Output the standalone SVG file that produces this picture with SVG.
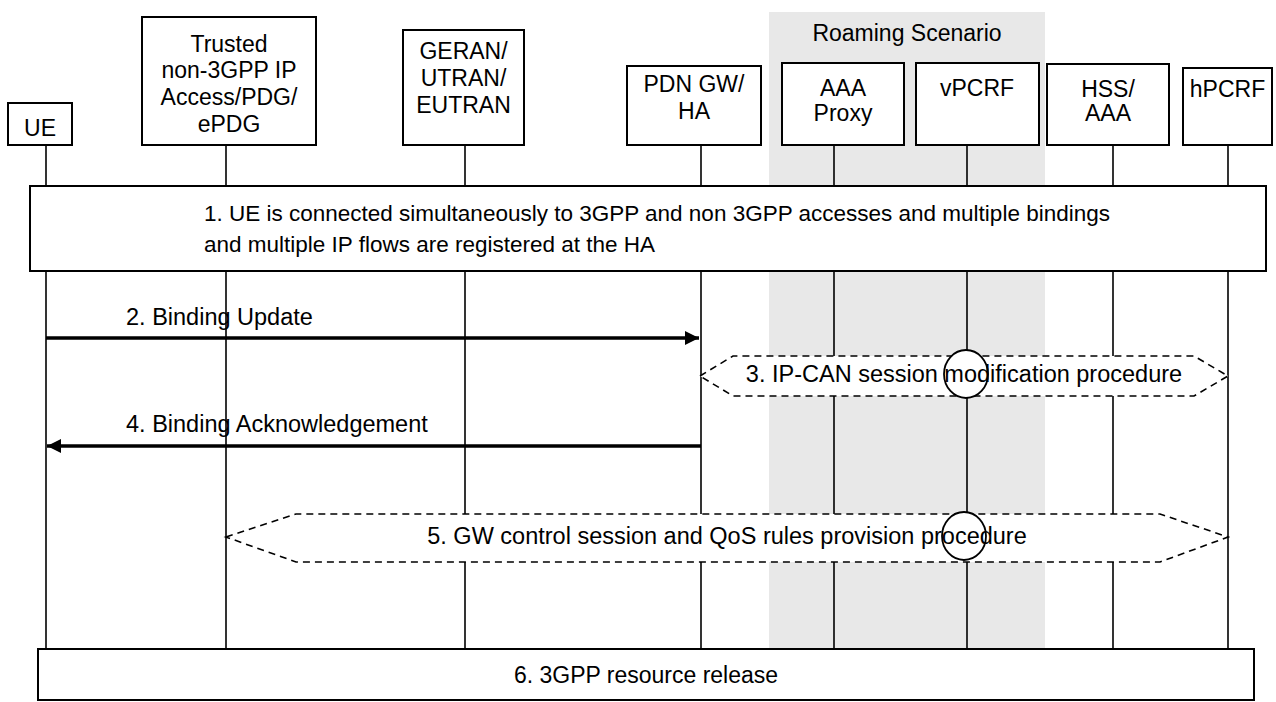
<svg xmlns="http://www.w3.org/2000/svg" width="1276" height="702" viewBox="0 0 1276 702">
<style>
text{font-family:"Liberation Sans",Arial,sans-serif;font-size:23px;fill:#000}
.m{font-size:23.5px}
.s1{font-size:22.5px}
.box{fill:#fff;stroke:#000;stroke-width:2}
.life{stroke:#000;stroke-width:1.6;fill:none}
.msg{stroke:#000;stroke-width:3.5;fill:none}
.proc{fill:#fff;stroke:#000;stroke-width:1.6;stroke-dasharray:7,5}
.ring{fill:#fff;stroke:#000;stroke-width:1.8}
.c{text-anchor:middle}
</style>
<defs>
<marker id="ah" viewBox="0 0 10 10" refX="10" refY="5" markerWidth="4.4" markerHeight="4" markerUnits="strokeWidth" orient="auto">
<path d="M0,0 L10,5 L0,10 z" fill="#000"/>
</marker>
</defs>
<rect id="roaming-area" x="769" y="12" width="276" height="636" fill="#e8e8e8"/>
<text class="c" x="907" y="41">Roaming Scenario</text>
<g id="lifelines">
<line class="life" x1="46" y1="145" x2="46" y2="649"/>
<line class="life" x1="226" y1="145" x2="226" y2="649"/>
<line class="life" x1="465" y1="145" x2="465" y2="649"/>
<line class="life" x1="701" y1="145" x2="701" y2="649"/>
<line class="life" x1="834" y1="145" x2="834" y2="649"/>
<line class="life" x1="967" y1="145" x2="967" y2="649"/>
<line class="life" x1="1113" y1="145" x2="1113" y2="649"/>
<line class="life" x1="1228" y1="145" x2="1228" y2="649"/>
</g>
<g id="ue"><rect class="box" x="8" y="103" width="64" height="42"/><text class="c" x="40" y="136">UE</text></g>
<g id="trusted"><rect class="box" x="142" y="17" width="174" height="128"/>
<text class="c" x="229" y="52">Trusted</text><text class="c" x="229" y="78">non-3GPP IP</text><text class="c" x="229" y="105">Access/PDG/</text><text class="c" x="229" y="132">ePDG</text></g>
<g id="geran"><rect class="box" x="403" y="30" width="121" height="115"/>
<text class="c" x="463.5" y="59">GERAN/</text><text class="c" x="463.5" y="86">UTRAN/</text><text class="c" x="463.5" y="113">EUTRAN</text></g>
<g id="pdngw"><rect class="box" x="627" y="66" width="134" height="79"/>
<text class="c" x="694" y="92">PDN GW/</text><text class="c" x="694" y="119">HA</text></g>
<g id="aaaproxy"><rect class="box" x="782" y="63" width="122" height="82"/>
<text class="c" x="843" y="96">AAA</text><text class="c" x="843" y="121">Proxy</text></g>
<g id="vpcrf"><rect class="box" x="916" y="63" width="123" height="82"/>
<text class="c" x="977" y="96">vPCRF</text></g>
<g id="hssaaa"><rect class="box" x="1047" y="64" width="122" height="81"/>
<text class="c" x="1108" y="97">HSS/</text><text class="c" x="1108" y="121">AAA</text></g>
<g id="hpcrf"><rect class="box" x="1183" y="68" width="89" height="77"/>
<text class="c" x="1227.5" y="97">hPCRF</text></g>
<g id="step1"><rect class="box" x="30" y="186" width="1236" height="85"/>
<text class="s1" x="204" y="221">1. UE is connected simultaneously to 3GPP and non 3GPP accesses and multiple bindings</text>
<text class="s1" x="204" y="252">and multiple IP flows are registered at the HA</text></g>
<g id="connectors">
<line class="msg" x1="46" y1="338" x2="699" y2="338" marker-end="url(#ah)"/>
<text class="m" x="126" y="325">2. Binding Update</text>
<line class="msg" x1="701" y1="446" x2="47" y2="446" marker-end="url(#ah)"/>
<text class="m" x="126" y="432">4. Binding Acknowledgement</text>
</g>
<g id="step3">
<polygon class="proc" points="700,376 733,356 1194,356 1228,376 1194,396 733,396"/>
<ellipse class="ring" cx="966" cy="374" rx="22" ry="24"/>
<text class="c m" x="964" y="382">3. IP-CAN session modification procedure</text>
</g>
<g id="step5">
<polygon class="proc" points="226,537 296,514 1160,514 1228,537 1160,562 296,562"/>
<ellipse class="ring" cx="964" cy="536" rx="22" ry="24"/>
<text class="c m" x="727" y="544">5. GW control session and QoS rules provision procedure</text>
</g>
<g id="step6"><rect class="box" x="38" y="649" width="1216" height="51"/>
<text class="c" x="646" y="683">6. 3GPP resource release</text></g>
</svg>
